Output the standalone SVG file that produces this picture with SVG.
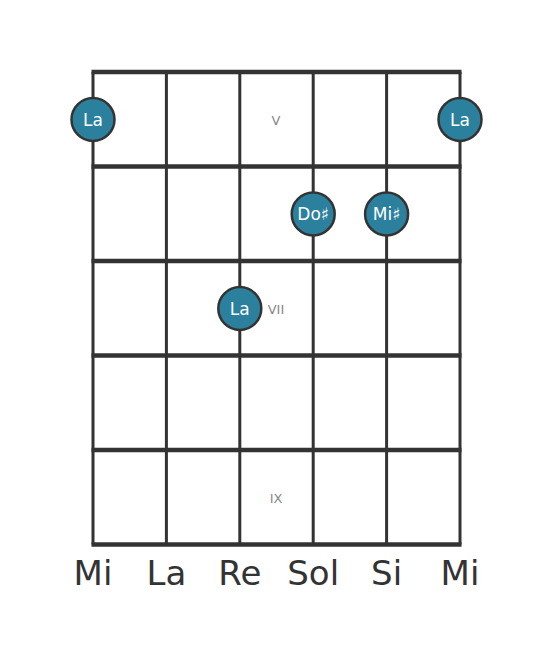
<svg xmlns="http://www.w3.org/2000/svg" width="553" height="656" viewBox="0 0 553 656">
<style>
.fret{stroke:#333;stroke-width:4.5;}
.str{stroke:#333;stroke-width:3;}
.note circle{fill:#2b809d;stroke:#333;stroke-width:2.5;}
.note text{fill:#fff;font-family:"DejaVu Sans",sans-serif;font-size:17px;text-anchor:middle;dominant-baseline:central;}
.pos{fill:#888;font-family:"DejaVu Sans",sans-serif;font-size:13px;text-anchor:middle;dominant-baseline:central;}
.sname{fill:#333;font-family:"DejaVu Sans",sans-serif;font-size:34px;text-anchor:middle;}
</style>
<rect width="553" height="656" fill="#fff"/>
<g id="grid">
<line class="str" x1="93" y1="72" x2="93" y2="544.5"/>
<line class="str" x1="166.4" y1="72" x2="166.4" y2="544.5"/>
<line class="str" x1="239.8" y1="72" x2="239.8" y2="544.5"/>
<line class="str" x1="313.2" y1="72" x2="313.2" y2="544.5"/>
<line class="str" x1="386.6" y1="72" x2="386.6" y2="544.5"/>
<line class="str" x1="460" y1="72" x2="460" y2="544.5"/>
<line class="fret" x1="91.5" y1="72" x2="461.5" y2="72"/>
<line class="fret" x1="91.5" y1="166.5" x2="461.5" y2="166.5"/>
<line class="fret" x1="91.5" y1="261" x2="461.5" y2="261"/>
<line class="fret" x1="91.5" y1="355.5" x2="461.5" y2="355.5"/>
<line class="fret" x1="91.5" y1="450" x2="461.5" y2="450"/>
<line class="fret" x1="91.5" y1="544.5" x2="461.5" y2="544.5"/>
</g>
<g id="positions">
<text class="pos" x="276" y="120">V</text>
<text class="pos" x="276" y="309">VII</text>
<text class="pos" x="276" y="498">IX</text>
</g>
<g id="n1" class="note"><circle cx="93" cy="119.5" r="21.5"/><text x="93" y="119.5">La</text></g>
<g id="n2" class="note"><circle cx="460" cy="119.5" r="21.5"/><text x="460" y="119.5">La</text></g>
<g id="n3" class="note"><circle cx="313.2" cy="214" r="21.5"/><text x="313.2" y="214">Do♯</text></g>
<g id="n4" class="note"><circle cx="386.6" cy="214" r="21.5"/><text x="386.6" y="214">Mi♯</text></g>
<g id="n5" class="note"><circle cx="239.8" cy="308.5" r="21.5"/><text x="239.8" y="308.5">La</text></g>
<g id="strings">
<text class="sname" x="93" y="585">Mi</text>
<text class="sname" x="166.4" y="585">La</text>
<text class="sname" x="239.8" y="585">Re</text>
<text class="sname" x="313.2" y="585">Sol</text>
<text class="sname" x="386.6" y="585">Si</text>
<text class="sname" x="460" y="585">Mi</text>
</g>
</svg>
